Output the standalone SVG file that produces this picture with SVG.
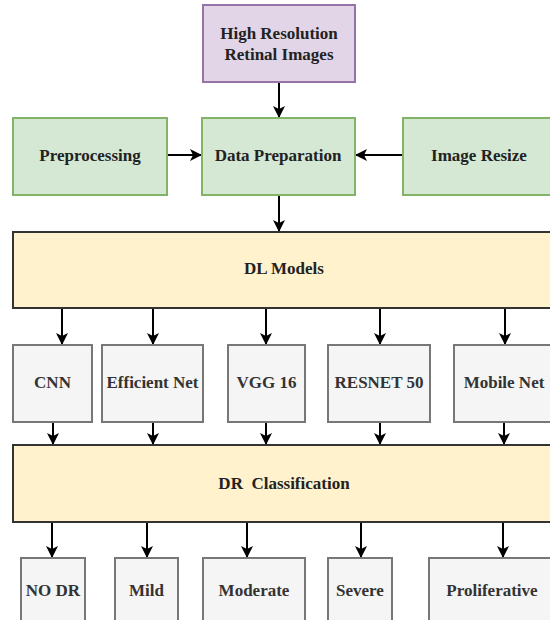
<svg xmlns="http://www.w3.org/2000/svg" width="550" height="620" viewBox="0 0 550 620">
<defs>
<style>
.t{font-family:'Liberation Serif','Times New Roman','DejaVu Serif',serif;font-weight:bold;font-size:17px;fill:#222;text-anchor:middle}
.g{fill:#333}
.purple{fill:#e1d5e7;stroke:#9673a6;stroke-width:2}
.green{fill:#d5e8d4;stroke:#82b366;stroke-width:2}
.yellow{fill:#fff2cc;stroke:#333;stroke-width:2}
.gray{fill:#f5f5f5;stroke:#777;stroke-width:2}
.c{stroke:#000;stroke-width:2;fill:none;marker-end:url(#ah)}
</style>
<marker id="ah" markerUnits="userSpaceOnUse" viewBox="0 0 12 12" markerWidth="12" markerHeight="12" refX="12" refY="6" orient="auto">
<path d="M0,0 L12,6 L0,12 L3,6 z" fill="#000"/>
</marker>
</defs>
<rect width="550" height="620" fill="#fff"/>
<g id="connectors">
<line class="c" x1="279" y1="82" x2="279" y2="118"/>
<line class="c" x1="167" y1="155" x2="202" y2="155"/>
<line class="c" x1="403" y1="155" x2="355" y2="155"/>
<line class="c" x1="279" y1="195" x2="279" y2="232"/>
<line class="c" x1="62" y1="308" x2="62" y2="345"/>
<line class="c" x1="153" y1="308" x2="153" y2="345"/>
<line class="c" x1="266" y1="308" x2="266" y2="345"/>
<line class="c" x1="380" y1="308" x2="380" y2="345"/>
<line class="c" x1="505" y1="308" x2="505" y2="345"/>
<line class="c" x1="53" y1="422" x2="53" y2="445"/>
<line class="c" x1="153" y1="422" x2="153" y2="445"/>
<line class="c" x1="266" y1="422" x2="266" y2="445"/>
<line class="c" x1="380" y1="422" x2="380" y2="445"/>
<line class="c" x1="504" y1="422" x2="504" y2="445"/>
<line class="c" x1="52" y1="522" x2="52" y2="558"/>
<line class="c" x1="147" y1="522" x2="147" y2="558"/>
<line class="c" x1="247" y1="522" x2="247" y2="558"/>
<line class="c" x1="361" y1="522" x2="361" y2="558"/>
<line class="c" x1="503" y1="522" x2="503" y2="558"/>
</g>
<g id="hires" font-family="Liberation Serif, serif"><rect class="purple" x="203" y="5" width="152" height="77"/><text class="t" x="279" y="39">High Resolution</text><text class="t" x="279" y="60">Retinal Images</text></g>
<g id="preprocessing"><rect class="green" x="13" y="118" width="154" height="77"/><text class="t" x="90" y="161">Preprocessing</text></g>
<g id="dataprep"><rect class="green" x="202" y="118" width="153" height="77"/><text class="t" x="278" y="161">Data Preparation</text></g>
<g id="resize"><rect class="green" x="403" y="118" width="152" height="77"/><text class="t" x="479" y="161">Image Resize</text></g>
<g id="dlmodels"><rect class="yellow" x="13" y="232" width="542" height="76"/><text class="t" x="284" y="274">DL Models</text></g>
<g id="cnn"><rect class="gray" x="13" y="345" width="79" height="77"/><text class="t g" x="52.5" y="388">CNN</text></g>
<g id="efficient"><rect class="gray" x="102" y="345" width="101" height="77"/><text class="t g" x="152.5" y="388">Efficient Net</text></g>
<g id="vgg"><rect class="gray" x="228" y="345" width="77" height="77"/><text class="t g" x="266.5" y="388">VGG 16</text></g>
<g id="resnet"><rect class="gray" x="328" y="345" width="102" height="77"/><text class="t g" x="379" y="388">RESNET 50</text></g>
<g id="mobile"><rect class="gray" x="454" y="345" width="101" height="77"/><text class="t g" x="504" y="388">Mobile Net</text></g>
<g id="drclass"><rect class="yellow" x="13" y="445" width="542" height="77"/><text class="t" x="284" y="489" xml:space="preserve">DR  Classification</text></g>
<g id="nodr"><rect class="gray" x="21" y="558" width="64" height="80"/><text class="t g" x="53" y="596">NO DR</text></g>
<g id="mild"><rect class="gray" x="115" y="558" width="63" height="80"/><text class="t g" x="146.5" y="596">Mild</text></g>
<g id="moderate"><rect class="gray" x="203" y="558" width="102" height="80"/><text class="t g" x="254" y="596">Moderate</text></g>
<g id="severe"><rect class="gray" x="328" y="558" width="64" height="80"/><text class="t g" x="360" y="596">Severe</text></g>
<g id="proliferative"><rect class="gray" x="429" y="558" width="126" height="80"/><text class="t g" x="492" y="596">Proliferative</text></g>
</svg>
